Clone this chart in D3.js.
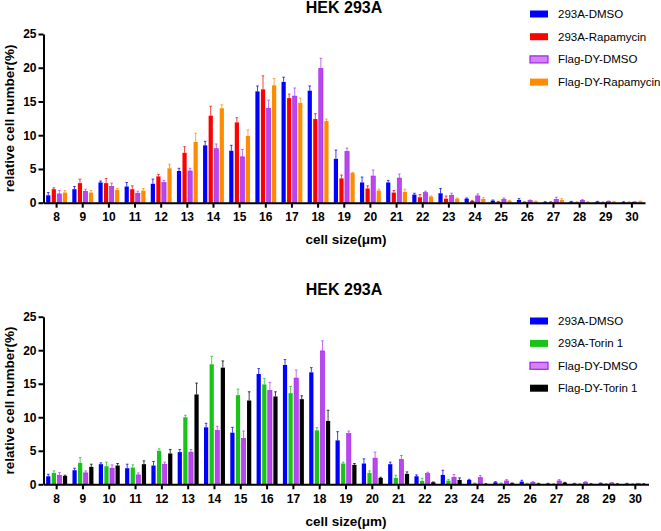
<!DOCTYPE html>
<html><head><meta charset="utf-8">
<script src="https://cdn.jsdelivr.net/npm/d3@7/dist/d3.min.js"></script>
<style>body{margin:0;background:#fff}svg{display:block;font-family:"Liberation Sans",Arial,sans-serif}</style>
</head><body><svg id="c" width="661" height="531"></svg>
<script>
const categories = ["8","9","10","11","12","13","14","15","16","17","18","19","20","21","22","23","24","25","26","27","28","29","30"];
const yTicks = [0,5,10,15,20,25];

// Top chart (Rapamycin)
const topSeries = ["293A-DMSO","293A-Rapamycin","Flag-DY-DMSO","Flag-DY-Rapamycin"];
const topColors = ["#0000ff","#ff0000","#b43cf0","#ff8c00"];
const top_293A_DMSO      = [1.1,2.0,3.0,2.4,2.8,4.7,8.5,7.7,16.5,17.9,16.6,6.5,3.0,3.0,1.2,1.4,0.6,0.3,0.4,0.1,0.15,0.15,0.1];
const top_293A_DMSO_err  = [0.4,0.4,0.2,0.6,0.7,0.4,0.6,0.8,0.8,0.7,0.7,1.3,0.8,0.3,0.2,0.7,0.1,0.1,0.2,0.05,0.05,0.05,0.05];
const top_293A_Rapa      = [2.0,2.9,2.9,2.0,3.9,7.4,12.9,11.9,16.8,15.5,12.4,3.6,2.1,1.5,0.8,0.6,0.25,0.15,0.1,0.1,0.05,0.05,0.05];
const top_293A_Rapa_err  = [0.2,0.6,0.7,0.5,0.3,0.9,1.4,0.7,2.0,0.6,0.8,0.5,0.4,0.3,0.4,0.4,0.05,0.05,0.05,0.05,0.05,0.05,0.05];
const top_DY_DMSO        = [1.3,1.7,2.4,1.4,3.0,4.7,8.0,6.8,14.0,15.8,19.9,7.6,3.95,3.65,1.5,1.1,1.0,0.5,0.3,0.5,0.35,0.2,0.1];
const top_DY_DMSO_err    = [0.5,0.3,0.5,0.3,0.3,0.4,0.7,1.1,1.2,1.2,1.5,0.5,0.9,0.6,0.2,0.3,0.3,0.2,0.1,0.3,0.1,0.05,0.05];
const top_DY_Rapa        = [1.5,1.5,1.9,1.8,5.1,9.0,14.0,9.9,17.4,14.8,12.1,4.4,1.8,1.6,0.9,0.6,0.55,0.3,0.2,0.4,0.1,0.15,0.2];
const top_DY_Rapa_err    = [0.3,0.3,0.2,0.3,0.6,1.3,0.5,0.9,1.0,0.7,0.3,0.1,0.2,0.4,0.1,0.1,0.2,0.05,0.05,0.2,0.05,0.05,0.05];

// Bottom chart (Torin 1)
const botSeries = ["293A-DMSO","293A-Torin 1","Flag-DY-DMSO","Flag-DY-Torin 1"];
const botColors = ["#0000ff","#17c417","#b43cf0","#000000"];
const bot_293A_DMSO      = [1.2,2.1,3.0,2.4,2.8,4.8,8.5,7.7,16.45,17.8,16.7,6.55,3.1,3.0,1.2,1.4,0.65,0.3,0.4,0.1,0.1,0.15,0.1];
const bot_293A_DMSO_err  = [0.3,0.3,0.2,0.6,0.6,0.4,0.6,0.8,0.8,0.8,0.7,1.3,0.7,0.3,0.2,0.7,0.1,0.1,0.2,0.05,0.05,0.05,0.05];
const bot_293A_Torin     = [1.7,3.2,2.7,2.5,5.0,10.0,17.9,13.3,14.9,13.6,8.05,3.1,1.7,0.95,0.5,0.55,0.15,0.15,0.1,0.05,0.05,0.05,0.05];
const bot_293A_Torin_err = [0.3,0.8,0.6,0.4,0.3,0.3,1.2,0.9,0.9,1.0,0.4,0.2,0.3,0.4,0.4,0.2,0.05,0.05,0.05,0.05,0.05,0.05,0.05];
const bot_DY_DMSO        = [1.35,1.7,2.4,1.4,3.0,4.8,8.05,6.85,14.0,15.85,19.9,7.55,3.9,3.7,1.6,1.05,1.0,0.5,0.3,0.5,0.3,0.2,0.1];
const bot_DY_DMSO_err    = [0.4,0.3,0.5,0.3,0.3,0.4,0.6,1.1,1.2,1.2,1.5,0.4,0.9,0.6,0.2,0.4,0.3,0.2,0.1,0.2,0.1,0.05,0.05];
const bot_DY_Torin       = [1.25,2.6,2.8,3.0,4.6,13.4,17.4,12.5,13.1,12.7,9.45,2.9,0.95,1.55,0.3,0.65,0.05,0.15,0.1,0.25,0.05,0.05,0.05];
const bot_DY_Torin_err   = [0.1,0.4,0.3,0.5,0.6,1.7,1.0,1.3,0.7,0.5,1.6,0.2,0.1,0.3,0.05,0.3,0.05,0.05,0.05,0.05,0.05,0.05,0.05];

const svg = d3.select("#c");

function drawChart(opt) {
  const g = svg.append("g");
  const x0 = d3.scaleBand().domain(categories).range(opt.xRange).paddingInner(0).paddingOuter(0);
  const x1 = d3.scaleBand().domain(opt.series).range([0, x0.bandwidth()]).paddingInner(0.243).paddingOuter(0.477);
  const y = d3.scaleLinear().domain([0,25]).range(opt.yRange);

  opt.series.forEach((s, si) => {
    const vals = opt.values[si], errs = opt.errors[si], col = opt.colors[si];
    const isPurple = col === "#b43cf0";
    const sg = g.append("g");
    sg.selectAll("line.err").data(categories).join("line")
      .attr("x1", (d) => x0(d) + x1(s) + x1.bandwidth()/2)
      .attr("x2", (d) => x0(d) + x1(s) + x1.bandwidth()/2)
      .attr("y1", (d,i) => y(vals[i]))
      .attr("y2", (d,i) => y(vals[i] + errs[i]))
      .attr("stroke", col).attr("stroke-opacity", 0.75).attr("stroke-width", 1);
    sg.selectAll("line.cap").data(categories).join("line")
      .attr("x1", (d) => x0(d) + x1(s) + x1.bandwidth()/2 - 1.3)
      .attr("x2", (d) => x0(d) + x1(s) + x1.bandwidth()/2 + 1.3)
      .attr("y1", (d,i) => y(vals[i] + errs[i]))
      .attr("y2", (d,i) => y(vals[i] + errs[i]))
      .attr("stroke", col).attr("stroke-opacity", 0.75).attr("stroke-width", 1);
    sg.selectAll("rect").data(categories).join("rect")
      .attr("x", (d) => x0(d) + x1(s))
      .attr("width", x1.bandwidth())
      .attr("y", (d,i) => y(vals[i]))
      .attr("height", (d,i) => y(0) - y(vals[i]))
      .attr("fill", isPurple ? "#b848ee" : col)
      .attr("stroke", isPurple ? "#a321e6" : "none")
      .attr("stroke-width", isPurple ? 0.6 : 0);
  });

  const yAxis = g.append("g").attr("transform", `translate(${opt.xRange[0]},0)`)
    .call(d3.axisLeft(y).tickValues(yTicks).tickSize(5).tickPadding(2).tickSizeOuter(0));
  const xAxis = g.append("g").attr("transform", `translate(0,${y(0)})`)
    .call(d3.axisBottom(x0).tickSize(5).tickPadding(5).tickSizeOuter(0));
  [yAxis, xAxis].forEach(a => {
    a.select(".domain").attr("stroke", "#000").attr("stroke-width", 2);
    a.selectAll(".tick line").attr("stroke", "#000").attr("stroke-width", 2);
    a.selectAll(".tick text").attr("fill", "#000").style("font-size", "12px").style("font-weight", "bold")
      .style("font-family", "'Liberation Sans', Arial, sans-serif");
  });

  g.append("text").attr("x", 344).attr("y", opt.titleY).attr("text-anchor", "middle")
    .style("font-size", "16px").style("font-weight", "bold").text("HEK 293A");
  g.append("text").attr("x", 346).attr("y", opt.xLabelY).attr("text-anchor", "middle")
    .style("font-size", "13.5px").style("font-weight", "bold").text("cell size(μm)");
  const yc = (opt.yRange[0] + opt.yRange[1]) / 2;
  g.append("text").attr("transform", `translate(14,${yc}) rotate(-90)`).attr("text-anchor", "middle")
    .style("font-size", "13.5px").style("font-weight", "bold").text("relative cell number(%)");

  const lg = g.append("g");
  opt.series.forEach((s, si) => {
    const ly = opt.legendY + si * opt.legendStep;
    const col = opt.colors[si];
    const isPurple = col === "#b43cf0";
    lg.append("rect").attr("x", 530).attr("y", ly - 3.5).attr("width", 18).attr("height", 7)
      .attr("fill", isPurple ? "#d283f5" : col)
      .attr("stroke", isPurple ? "#a321e6" : "none").attr("stroke-width", isPurple ? 1.2 : 0);
    lg.append("text").attr("x", 558).attr("y", ly + 4).style("font-size", "11.5px").text(s);
  });
}

drawChart({
  series: topSeries, colors: topColors,
  values: [top_293A_DMSO, top_293A_Rapa, top_DY_DMSO, top_DY_Rapa],
  errors: [top_293A_DMSO_err, top_293A_Rapa_err, top_DY_DMSO_err, top_DY_Rapa_err],
  xRange: [43.5, 645], yRange: [202.7, 34],
  titleY: 13, xLabelY: 244, legendY: 14, legendStep: 22.7
});
drawChart({
  series: botSeries, colors: botColors,
  values: [bot_293A_DMSO, bot_293A_Torin, bot_DY_DMSO, bot_DY_Torin],
  errors: [bot_293A_DMSO_err, bot_293A_Torin_err, bot_DY_DMSO_err, bot_DY_Torin_err],
  xRange: [43.5, 648.5], yRange: [484.3, 316.7],
  titleY: 295, xLabelY: 526, legendY: 321, legendStep: 22.4
});
</script></body></html>
